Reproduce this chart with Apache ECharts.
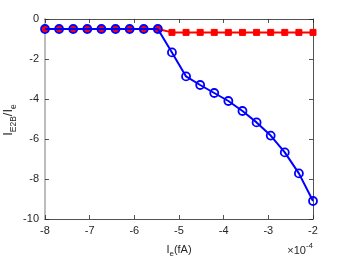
<!DOCTYPE html>
<html><head><meta charset="utf-8">
<script src="https://cdn.jsdelivr.net/npm/echarts@6/dist/echarts.min.js"></script>
<style>html,body{margin:0;padding:0;background:#fff}#c{width:346px;height:260px}</style>
</head><body><div id="c"></div>
<script>
const xValues = [-8, -7.684, -7.368, -7.053, -6.737, -6.421, -6.105, -5.789, -5.474, -5.158, -4.842, -4.526, -4.211, -3.895, -3.579, -3.263, -2.947, -2.632, -2.316, -2];
const blueValues = [-0.5, -0.5, -0.5, -0.5, -0.5, -0.5, -0.5, -0.5, -0.5, -1.67, -2.87, -3.3, -3.7, -4.1, -4.6, -5.17, -5.83, -6.67, -7.72, -9.1];
const redValues = [-0.5, -0.5, -0.5, -0.5, -0.5, -0.5, -0.5, -0.5, -0.5, -0.67, -0.67, -0.67, -0.67, -0.67, -0.67, -0.67, -0.67, -0.67, -0.67, -0.67];
const xTicks = [-8, -7, -6, -5, -4, -3, -2];
const yTicks = [0, -2, -4, -6, -8, -10];

const font = 'Liberation Sans, Arial, sans-serif';
const pair = (xs, ys) => xs.map((x, i) => [x, ys[i]]);
const chart = echarts.init(document.getElementById('c'), null, {renderer: 'canvas'});
const axisCommon = {
  axisTick: {inside: true, length: 4, lineStyle: {color: '#262626', width: 0.8}},
  splitLine: {show: false},
  axisLabel: {color: '#262626', fontSize: 11, fontFamily: font}
};
chart.setOption({
  animation: false,
  grid: {left: 45, right: 33, top: 19, bottom: 41, containLabel: false, outerBoundsMode: 'none'},
  xAxis: [
    Object.assign({}, axisCommon, {
      type: 'value', min: xTicks[0], max: xTicks[xTicks.length - 1], interval: 1, position: 'bottom',
      axisLine: {onZero: false, lineStyle: {color: '#262626', width: 0.8}},
      axisLabel: Object.assign({}, axisCommon.axisLabel, {margin: 6, formatter: v => String(v)}),
      name: '{m|I}{s|e}{m|(fA)}', nameLocation: 'middle', nameGap: 25,
      nameTextStyle: {fontFamily: font, color: '#262626', rich: {
        m: {fontSize: 11, fontFamily: font, color: '#262626', lineHeight: 14, verticalAlign: 'top'},
        s: {fontSize: 8, fontFamily: font, color: '#262626', lineHeight: 14, verticalAlign: 'bottom', padding: [5, 0, 0, 0]}
      }}
    }),
    Object.assign({}, axisCommon, {
      type: 'value', min: xTicks[0], max: xTicks[xTicks.length - 1], interval: 1, position: 'top',
      axisLine: {onZero: false, lineStyle: {color: '#262626', width: 0.8}},
      axisLabel: {show: false}
    })
  ],
  yAxis: [
    Object.assign({}, axisCommon, {
      type: 'value', min: yTicks[yTicks.length - 1], max: yTicks[0], interval: 2, position: 'left',
      axisLine: {show: true, onZero: false, lineStyle: {color: '#bdbdbd', width: 2}},
      axisLabel: Object.assign({}, axisCommon.axisLabel, {margin: 6})
    }),
    Object.assign({}, axisCommon, {
      type: 'value', min: yTicks[yTicks.length - 1], max: yTicks[0], interval: 2, position: 'right',
      axisLine: {show: true, onZero: false, lineStyle: {color: '#262626', width: 0.8}},
      axisLabel: {show: false}
    })
  ],
  graphic: [{
    type: 'text', right: 33, bottom: 4,
    style: {text: '{m|×10}{s|-4}', fill: '#262626', font: '11px ' + font, rich: {
      m: {fontSize: 11, fontFamily: font, fill: '#262626', lineHeight: 14, verticalAlign: 'bottom', padding: [4, 0, 0, 0]},
      s: {fontSize: 8, fontFamily: font, fill: '#262626', lineHeight: 14, verticalAlign: 'top'}
    }}
  }, {
    type: 'text', x: 10, y: 120, rotation: Math.PI / 2,
    style: {text: '{m|I}{s|E2B}{m|/I}{s|e}', fill: '#262626', align: 'center', verticalAlign: 'middle',
      font: '13px ' + font, rich: {
      m: {fontSize: 13, fontFamily: font, fill: '#262626', lineHeight: 16, verticalAlign: 'top'},
      s: {fontSize: 8.5, fontFamily: font, fill: '#262626', lineHeight: 16, verticalAlign: 'bottom', padding: [7, 0, 0, 0]}
    }}
  }],
  series: [
    {type: 'line', data: pair(xValues, redValues), xAxisIndex: 0, yAxisIndex: 0,
     lineStyle: {color: '#ff0000', width: 2}, itemStyle: {color: '#ff0000', borderColor: '#ff0000', borderWidth: 1},
     symbol: 'rect', symbolSize: 6, showAllSymbol: true, z: 2},
    {type: 'line', data: pair(xValues, blueValues), xAxisIndex: 0, yAxisIndex: 0,
     lineStyle: {color: '#0000ff', width: 2}, itemStyle: {color: 'transparent', borderColor: '#0000ff', borderWidth: 1.8},
     symbol: 'circle', symbolSize: 8, showAllSymbol: true, z: 3}
  ]
});
</script></body></html>
